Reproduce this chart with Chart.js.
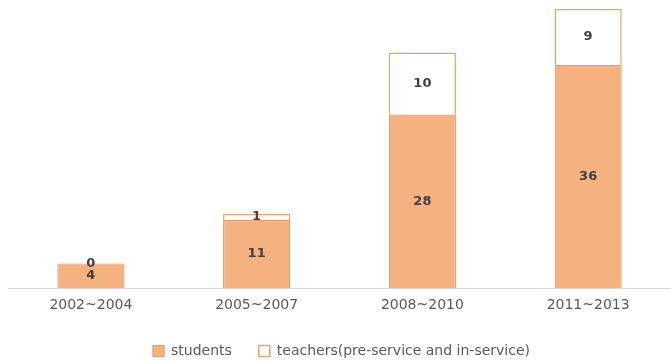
<!DOCTYPE html>
<html>
<head>
<meta charset="utf-8">
<script src="https://cdn.jsdelivr.net/npm/chart.js@4/dist/chart.umd.min.js"></script>
<style>
  html, body { margin: 0; padding: 0; background: #fff; }
  #wrap { width: 671px; height: 362px; position: relative; }
</style>
</head>
<body>
<div id="wrap"><canvas id="barChart"></canvas></div>
<script>
// periods and counts per group
const periods = ["2002~2004", "2005~2007", "2008~2010", "2011~2013"];
const students = [4, 11, 28, 36];
const teachers = [0, 1, 10, 9];

const FONT = "'DejaVu Sans', sans-serif";

// writes each segment's value in the middle of its bar
const valueLabels = {
    id: "valueLabels",
    afterDatasetsDraw(chart) {
        const ctx = chart.ctx;
        ctx.save();
        ctx.font = "bold 13px " + FONT;
        ctx.fillStyle = "#404040";
        ctx.textAlign = "center";
        ctx.textBaseline = "middle";
        chart.data.datasets.forEach((ds, i) => {
            chart.getDatasetMeta(i).data.forEach((bar, j) => {
                const mid = (bar.y + bar.base) / 2;
                ctx.fillText(ds.data[j], bar.x, mid);
            });
        });
        ctx.restore();
    }
};

const barCtx = document.getElementById("barChart").getContext("2d");
new Chart(barCtx, {
    type: "bar",
    data: {
        labels: periods,
        datasets: [{
            label: "students",
            data: students,
            backgroundColor: "#F5B17F",
            borderColor: "#EB9A62",
            borderWidth: 1.2,
            categoryPercentage: 1,
            barPercentage: 0.405
        }, {
            label: "teachers(pre-service and in-service)",
            data: teachers,
            backgroundColor: "#FFFFFF",
            borderColor: "#EDA06A",
            borderWidth: 1.5,
            categoryPercentage: 1,
            barPercentage: 0.405
        }]
    },
    options: {
        responsive: true,
        maintainAspectRatio: false,
        animation: false,
        layout: { padding: { top: 9, left: 8, right: -4, bottom: -6 } },
        scales: {
            x: {
                stacked: true,
                grid: { display: false, drawTicks: false },
                border: { color: "#D9D9D9" },
                ticks: { color: "#595959", font: { size: 14, family: FONT }, padding: 9 },
                afterFit(scale) { scale.height -= 6; }
            },
            y: {
                stacked: true,
                display: false,
                min: 0,
                max: 45
            }
        },
        plugins: {
            tooltip: { enabled: false },
            legend: {
                position: "bottom",
                labels: {
                    color: "#595959",
                    font: { size: 14, family: FONT },
                    boxWidth: 11,
                    boxHeight: 11,
                    padding: 27
                }
            }
        }
    },
    plugins: [valueLabels]
});
</script>
</body>
</html>
